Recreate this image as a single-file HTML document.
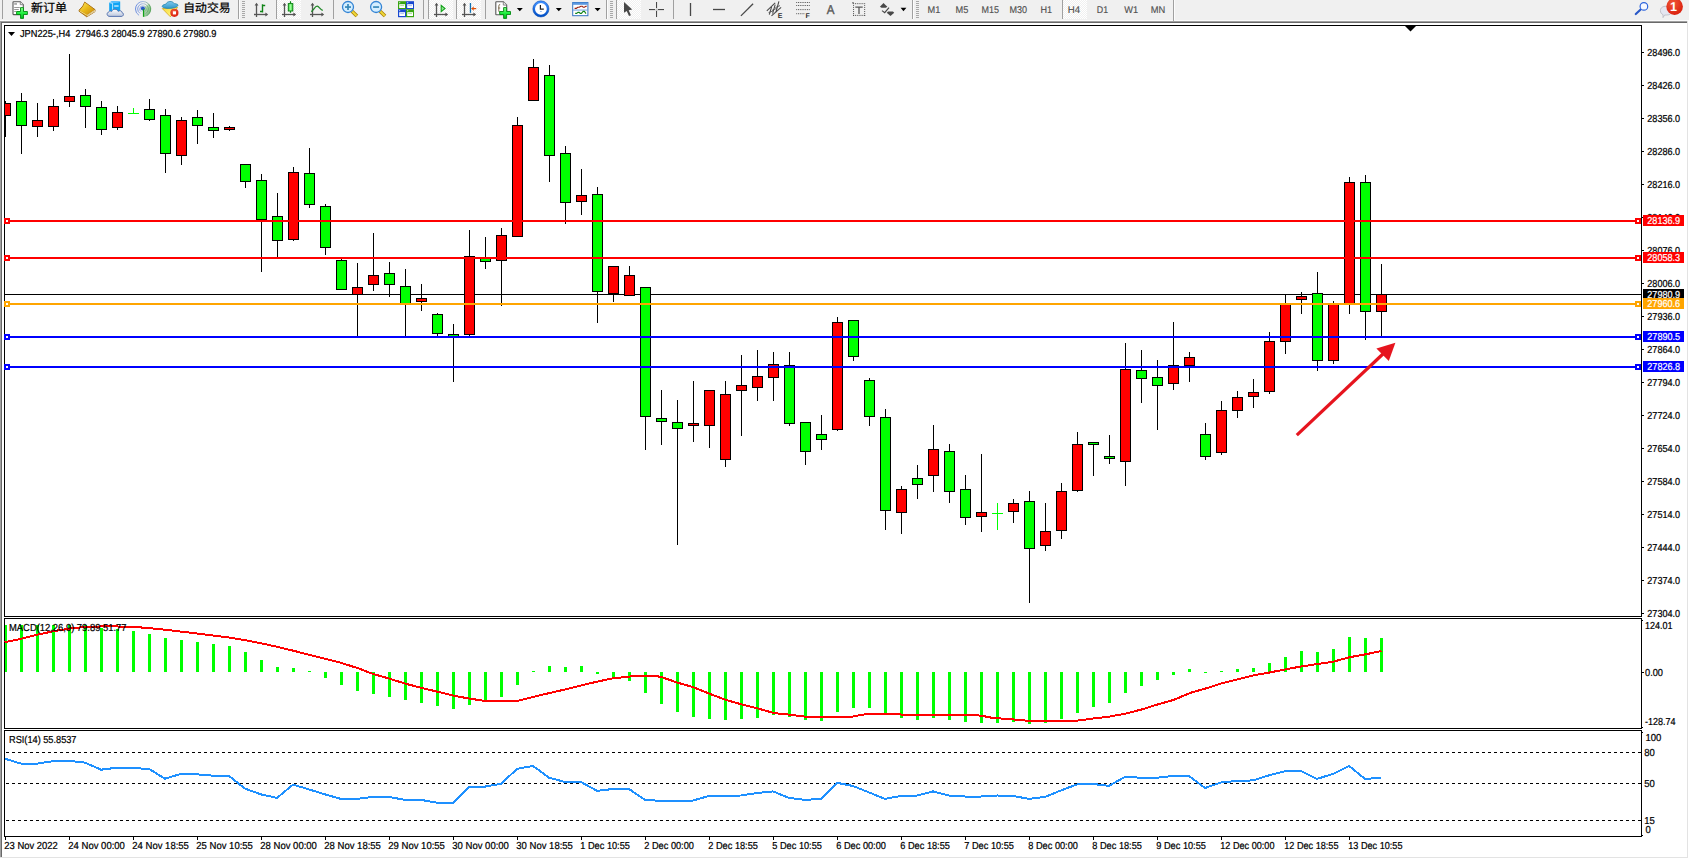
<!DOCTYPE html>
<html lang="zh"><head><meta charset="utf-8"><title>JPN225-,H4</title>
<style>
html,body{margin:0;padding:0;background:#fff;}
body{width:1689px;height:859px;overflow:hidden;position:relative;font-family:"Liberation Sans", "Noto Sans CJK SC", sans-serif;}
</style></head><body>
<svg id="chart" width="1689" height="859" viewBox="0 0 1689 859" style="position:absolute;left:0;top:0" font-family='"Liberation Sans", sans-serif' font-size="10.1" text-rendering="geometricPrecision">
<defs><clipPath id="cm"><rect x="5" y="26" width="1636" height="590"/></clipPath></defs>
<g id="toolbar">
<rect x="0" y="0" width="1689" height="21" fill="#f0f0f0"/>
<rect x="0" y="20" width="1689" height="1" fill="#fbfbfb" shape-rendering="crispEdges"/>
<defs>
<linearGradient id="gplus" x1="0" y1="0" x2="0" y2="1"><stop offset="0" stop-color="#8cff8c"/><stop offset="0.5" stop-color="#20f040"/><stop offset="1" stop-color="#00b818"/></linearGradient>
<linearGradient id="ggold" x1="0" y1="0" x2="1" y2="1"><stop offset="0" stop-color="#ffe860"/><stop offset="0.5" stop-color="#e8b818"/><stop offset="1" stop-color="#c88810"/></linearGradient>
<linearGradient id="gcloud" x1="0" y1="0" x2="0" y2="1"><stop offset="0" stop-color="#ffffff"/><stop offset="1" stop-color="#b8c4dc"/></linearGradient>
<linearGradient id="gblue" x1="0" y1="0" x2="0" y2="1"><stop offset="0" stop-color="#4090ff"/><stop offset="1" stop-color="#0050c8"/></linearGradient>
<linearGradient id="gcand" x1="0" y1="0" x2="1" y2="0"><stop offset="0" stop-color="#30d830"/><stop offset="0.5" stop-color="#a0ffa0"/><stop offset="1" stop-color="#30d830"/></linearGradient>
<radialGradient id="gred" cx="0.4" cy="0.3" r="0.8"><stop offset="0" stop-color="#f05838"/><stop offset="1" stop-color="#d81808"/></radialGradient>
<linearGradient id="ghat" x1="0" y1="0" x2="0" y2="1"><stop offset="0" stop-color="#80c8f0"/><stop offset="1" stop-color="#3098c8"/></linearGradient>
<linearGradient id="gface" x1="0" y1="0" x2="1" y2="1"><stop offset="0" stop-color="#f8d838"/><stop offset="1" stop-color="#ffff90"/></linearGradient>
<pattern id="chk" width="2" height="2" patternUnits="userSpaceOnUse"><rect width="2" height="2" fill="#f0f0f0"/><rect width="1" height="1" fill="#fff"/><rect x="1" y="1" width="1" height="1" fill="#fff"/></pattern>
</defs>
<rect x="2" y="0" width="1" height="19" fill="#a0a0a0" shape-rendering="crispEdges"/>
<path d="M13.5,1.7 h6.8 l3,3 v9.4 q0,.5 -.5,.5 h-9.3 q-.5,0 -.5,-.5 v-11.9 q0,-.5 .5,-.5 z" fill="#fff" stroke="#585858" stroke-width="1.1"/>
<path d="M20.3,1.7 v3 h3" fill="#e8e8e8" stroke="#707070" stroke-width="0.8"/>
<rect x="14.2" y="3.2" width="2.8" height="1.5" fill="#999"/><rect x="14.2" y="7" width="5.6" height="1" fill="#999"/><rect x="14.2" y="9" width="4.6" height="1" fill="#999"/><rect x="14.2" y="11" width="2" height="1" fill="#999"/>
<path d="M20.5,7.6 h3 v3.9 h3.9 v3 h-3.9 v3.9 h-3 v-3.9 h-3.9 v-3 h3.9 z" fill="url(#gplus)" stroke="#008a10" stroke-width="0.9" stroke-linejoin="round"/>
<text x="31" y="12.2" font-size="12" fill="#000" stroke="#000" stroke-width="0.25" font-family='"Liberation Sans","Noto Sans CJK SC",sans-serif'>新订单</text>
<path d="M84.7,2.1 L95,9.6 L95,11.6 L86.8,16.8 L79,11.2 L79.2,10 L82.9,6 Z" fill="#c89018" stroke="#a06810" stroke-width="0.9" stroke-linejoin="round"/>
<path d="M95,9.8 L87,15 L87,16.6 L95,11.5 Z" fill="#f4ecc8"/>
<path d="M94.8,10.6 L87.2,15.6" stroke="#b89850" stroke-width="0.5" fill="none"/>
<path d="M84.8,2.6 L94.2,9.5 L87,14.4 L79.8,10.2 L83.2,6.2 Z" fill="url(#ggold)"/>
<path d="M79.6,10.8 L86.9,15.2" stroke="#f8dc70" stroke-width="1" fill="none"/>
<path d="M109.2,2.4 L112,1.2 L120.2,1.6 L120.2,11 L109.2,11 Z" fill="#10a4f4"/>
<path d="M109.2,2.4 L112,1.2 L120.2,1.6 L118,2.8 L112.6,3.2 Z" fill="#58c0ff"/>
<path d="M109.4,2.6 L112.6,3.4 L112.6,11" fill="none" stroke="#e0f4ff" stroke-width="0.8"/>
<rect x="114.2" y="5.4" width="4.4" height="1.2" fill="#e8f6ff"/>
<path d="M110,16.4 C106.6,16.6 106.2,12.6 108.8,11.9 C109.6,10.8 111,10.9 111.6,11.6 C112.2,8.6 117.4,8.4 118.2,11.4 C119.8,10 122.2,11 122,12.6 C124.2,13.2 123.8,16.6 121,16.4 Z" fill="url(#gcloud)" stroke="#4868a8" stroke-width="0.9"/>
<defs><linearGradient id="gsig" x1="0" y1="0" x2="1" y2="0"><stop offset="0" stop-color="#3060d8"/><stop offset="0.55" stop-color="#88a8d8"/><stop offset="1" stop-color="#4a9850"/></linearGradient><linearGradient id="gsec" x1="0" y1="0" x2="1" y2="1"><stop offset="0" stop-color="#e8f4e0"/><stop offset="1" stop-color="#40a040"/></linearGradient></defs>
<path d="M143.2,9 L143.2,17 A8,8 0 0 0 148.8,3.4 Z" fill="url(#gsec)" opacity="0.85"/>
<circle cx="143" cy="9" r="7.5" fill="none" stroke="url(#gsig)" stroke-width="1" opacity="0.7" stroke-dasharray="39.8 7.5" stroke-dashoffset="-15.8"/>
<circle cx="143" cy="9" r="5.3" fill="none" stroke="url(#gsig)" stroke-width="1" opacity="0.6" stroke-dasharray="28.1 5.3" stroke-dashoffset="-11.1"/>
<circle cx="143" cy="9" r="3.2" fill="none" stroke="url(#gsig)" stroke-width="1" opacity="0.55" stroke-dasharray="17.0 3.2" stroke-dashoffset="-6.7"/>
<circle cx="142.9" cy="8.6" r="2" fill="#2858c8"/>
<rect x="142.9" y="9" width="1.3" height="7.8" fill="#10a018"/>
<path d="M162.3,8.6 L177.6,7.4 L170.4,16.8 Z" fill="url(#gface)" stroke="#d8a818" stroke-width="0.8" stroke-linejoin="round"/>
<path d="M162.2,6.4 C162.2,4.6 166,4.4 166.4,3.6 C167,1 173,0.8 173.6,3.2 C174.4,4 178,3.6 178,5.2 C177.6,7.4 172,8.4 169.4,8.4 C166.4,8.4 162.4,8 162.2,6.4 Z" fill="url(#ghat)" stroke="#2888b0" stroke-width="0.8"/>
<circle cx="174.4" cy="12.8" r="4.1" fill="url(#gred)"/>
<rect x="172.9" y="11.3" width="3.1" height="3.1" fill="#fff"/>
<text x="183.3" y="12.2" font-size="11.8" fill="#000" stroke="#000" stroke-width="0.25" font-family='"Liberation Sans","Noto Sans CJK SC",sans-serif'>自动交易</text>
<rect x="238" y="0" width="1" height="19" fill="#a0a0a0" shape-rendering="crispEdges"/>
<rect x="239" y="0" width="1" height="19" fill="#fcfcfc" shape-rendering="crispEdges"/>
<rect x="242" y="1" width="3" height="1" fill="#a8a8a8" shape-rendering="crispEdges"/>
<rect x="242" y="3" width="3" height="1" fill="#a8a8a8" shape-rendering="crispEdges"/>
<rect x="242" y="5" width="3" height="1" fill="#a8a8a8" shape-rendering="crispEdges"/>
<rect x="242" y="7" width="3" height="1" fill="#a8a8a8" shape-rendering="crispEdges"/>
<rect x="242" y="9" width="3" height="1" fill="#a8a8a8" shape-rendering="crispEdges"/>
<rect x="242" y="11" width="3" height="1" fill="#a8a8a8" shape-rendering="crispEdges"/>
<rect x="242" y="13" width="3" height="1" fill="#a8a8a8" shape-rendering="crispEdges"/>
<rect x="242" y="15" width="3" height="1" fill="#a8a8a8" shape-rendering="crispEdges"/>
<rect x="242" y="17" width="3" height="1" fill="#a8a8a8" shape-rendering="crispEdges"/>
<g stroke="#555" stroke-width="1.3" fill="none"><path d="M256.5,4 V17"/><path d="M254,14.5 H267"/></g>
<polygon points="256.5,2.8 254.6,5.6 258.4,5.6" fill="#555"/><polygon points="268.2,14.5 265.4,12.6 265.4,16.4" fill="#555"/>
<path d="M262.5,4.2 V12.6 M262.5,5.5 H265.2 M260,11.5 H262.5" stroke="#108418" stroke-width="1.4" fill="none"/>
<rect x="276" y="0" width="1" height="19" fill="#a0a0a0" shape-rendering="crispEdges"/>
<rect x="277" y="0" width="24" height="19" fill="url(#chk)" shape-rendering="crispEdges"/>
<g stroke="#555" stroke-width="1.3" fill="none"><path d="M284.5,4 V17"/><path d="M282,14.5 H295"/></g>
<polygon points="284.5,2.8 282.6,5.6 286.4,5.6" fill="#555"/><polygon points="296.2,14.5 293.4,12.6 293.4,16.4" fill="#555"/>
<path d="M290.5,1.2 V12.8" stroke="#108418" stroke-width="1.2"/><rect x="288.3" y="3.6" width="4.5" height="7.4" fill="url(#gcand)" stroke="#108418" stroke-width="1"/>
<g stroke="#555" stroke-width="1.3" fill="none"><path d="M312.5,4 V17"/><path d="M310,14.5 H323"/></g>
<polygon points="312.5,2.8 310.6,5.6 314.4,5.6" fill="#555"/><polygon points="324.2,14.5 321.4,12.6 321.4,16.4" fill="#555"/>
<path d="M311.2,11.6 C313.5,10.5 315,6 317.2,6.2 C319,6.4 320.5,9.8 322.8,10.4" stroke="#208828" stroke-width="1.3" fill="none"/>
<rect x="333" y="0" width="1" height="19" fill="#a0a0a0" shape-rendering="crispEdges"/>
<path d="M352,11.2 L356.9,16" stroke="#a88008" stroke-width="3.6" stroke-linecap="butt"/>
<path d="M352.2,11.4 L356.6,15.7" stroke="#f0d838" stroke-width="2"/>
<circle cx="348" cy="7" r="5.5" fill="#d4eeff" stroke="#3484d4" stroke-width="1.3"/>
<rect x="345" y="6.2" width="6" height="1.7" fill="#3888b8"/>
<rect x="347.15" y="4" width="1.7" height="6" fill="#3888b8"/>
<path d="M380.1,11.2 L385.0,16" stroke="#a88008" stroke-width="3.6" stroke-linecap="butt"/>
<path d="M380.3,11.4 L384.70000000000005,15.7" stroke="#f0d838" stroke-width="2"/>
<circle cx="376.1" cy="7" r="5.5" fill="#d4eeff" stroke="#3484d4" stroke-width="1.3"/>
<rect x="373.1" y="6.2" width="6" height="1.7" fill="#3888b8"/>
<rect x="398" y="1.2" width="8" height="8" fill="#38a410"/>
<rect x="399.2" y="4.2" width="5.8" height="3.8" fill="#fff"/>
<rect x="400.2" y="5.2" width="3.8" height="0.9" fill="#a0d890"/>
<rect x="399.2" y="2.2" width="1" height="1" fill="#e0f0ff"/>
<rect x="406" y="1.2" width="8" height="8" fill="#1848d0"/>
<rect x="407.2" y="4.2" width="5.8" height="3.8" fill="#fff"/>
<rect x="408.2" y="5.2" width="3.8" height="0.9" fill="#a0b8f0"/>
<rect x="407.2" y="2.2" width="1" height="1" fill="#e0f0ff"/>
<rect x="398" y="9.2" width="8" height="8" fill="#1848d0"/>
<rect x="399.2" y="12.2" width="5.8" height="3.8" fill="#fff"/>
<rect x="400.2" y="13.2" width="3.8" height="0.9" fill="#a0b8f0"/>
<rect x="399.2" y="10.2" width="1" height="1" fill="#e0f0ff"/>
<rect x="406" y="9.2" width="8" height="8" fill="#38a410"/>
<rect x="407.2" y="12.2" width="5.8" height="3.8" fill="#fff"/>
<rect x="408.2" y="13.2" width="3.8" height="0.9" fill="#a0d890"/>
<rect x="407.2" y="10.2" width="1" height="1" fill="#e0f0ff"/>
<rect x="423" y="0" width="1" height="19" fill="#a0a0a0" shape-rendering="crispEdges"/>
<rect x="428" y="0" width="1" height="19" fill="#a0a0a0" shape-rendering="crispEdges"/>
<rect x="429" y="0" width="24" height="19" fill="url(#chk)" shape-rendering="crispEdges"/>
<g stroke="#555" stroke-width="1.3" fill="none"><path d="M436.5,4 V17"/><path d="M434,14.5 H447"/></g>
<polygon points="436.5,2.8 434.6,5.6 438.4,5.6" fill="#555"/><polygon points="448.2,14.5 445.4,12.6 445.4,16.4" fill="#555"/>
<polygon points="441.2,5.4 441.2,11.6 445,8.6" fill="#90e890" stroke="#10a018" stroke-width="1.1"/>
<rect x="456" y="0" width="1" height="19" fill="#a0a0a0" shape-rendering="crispEdges"/>
<rect x="457" y="0" width="24" height="19" fill="url(#chk)" shape-rendering="crispEdges"/>
<g stroke="#555" stroke-width="1.3" fill="none"><path d="M464.5,4 V17"/><path d="M462,14.5 H475"/></g>
<polygon points="464.5,2.8 462.6,5.6 466.4,5.6" fill="#555"/><polygon points="476.2,14.5 473.4,12.6 473.4,16.4" fill="#555"/>
<rect x="469.8" y="3" width="1.3" height="9.8" fill="#1070b0"/>
<path d="M471.6,8.6 H476.2" stroke="#e05008" stroke-width="1.2"/><polygon points="471.3,8.6 474,6.2 473.4,8.6 474,11" fill="#e05008"/>
<rect x="485" y="0" width="1" height="19" fill="#a0a0a0" shape-rendering="crispEdges"/>
<path d="M496.3,1.7 h7 l3.4,3.4 v9.2 q0,.5 -.5,.5 h-9.9 q-.5,0 -.5,-.5 v-12.1 q0,-.5 .5,-.5 z" fill="#fff" stroke="#585858" stroke-width="1.1"/>
<path d="M503.3,1.7 v3.4 h3.4" fill="#e8e8e8" stroke="#707070" stroke-width="0.8"/>
<path d="M500.2,4.4 q-1.4,0 -1.4,1.6 v5 q0,1.2 1.2,1.2 M498,8 h2.2" stroke="#786848" stroke-width="0.9" fill="none"/>
<path d="M503.6,7.6 h3 v3.9 h3.9 v3 h-3.9 v3.9 h-3 v-3.9 h-3.9 v-3 h3.9 z" fill="url(#gplus)" stroke="#008a10" stroke-width="0.9" stroke-linejoin="round"/>
<polygon points="516.8,8 522.8,8 519.8,11.2" fill="#000"/>
<circle cx="540.9" cy="8.9" r="7" fill="#fff" stroke="url(#gblue)" stroke-width="2.2"/>
<circle cx="540.9" cy="8.9" r="8.1" fill="none" stroke="#0848a8" stroke-width="0.5"/>
<path d="M540.4,5 V9.2 H543.8" stroke="#202020" stroke-width="1.2" fill="none"/>
<rect x="540" y="11.2" width="1.8" height="0.8" fill="#80b0f0"/>
<polygon points="555.8,8 561.8,8 558.8,11.2" fill="#000"/>
<rect x="572.7" y="2.5" width="15.2" height="13.2" fill="#fff" stroke="#3474c4" stroke-width="1"/>
<rect x="573" y="2.6" width="14.6" height="2.2" fill="#5a98e0"/>
<rect x="573" y="9.6" width="14.6" height="0.9" fill="#5a98e0"/>
<path d="M574.6,8.4 h1.6 l1.6,-1.2 h1.4 l1.6,-1 h1.4 l1,1 h1.2 l1.4,-1 h1" stroke="#982010" stroke-width="1.1" fill="none"/>
<path d="M575.2,13.4 h1.4 l1.4,-1 h1.2 l1,1 h1.2 l1.8,-2 h1.2 l1.6,2.2" stroke="#108418" stroke-width="1.1" fill="none"/>
<polygon points="594.6,8 600.6,8 597.6,11.2" fill="#000"/>
<rect x="606" y="0" width="1" height="19" fill="#a0a0a0" shape-rendering="crispEdges"/>
<rect x="607" y="0" width="1" height="19" fill="#fcfcfc" shape-rendering="crispEdges"/>
<rect x="610" y="1" width="3" height="1" fill="#a8a8a8" shape-rendering="crispEdges"/>
<rect x="610" y="3" width="3" height="1" fill="#a8a8a8" shape-rendering="crispEdges"/>
<rect x="610" y="5" width="3" height="1" fill="#a8a8a8" shape-rendering="crispEdges"/>
<rect x="610" y="7" width="3" height="1" fill="#a8a8a8" shape-rendering="crispEdges"/>
<rect x="610" y="9" width="3" height="1" fill="#a8a8a8" shape-rendering="crispEdges"/>
<rect x="610" y="11" width="3" height="1" fill="#a8a8a8" shape-rendering="crispEdges"/>
<rect x="610" y="13" width="3" height="1" fill="#a8a8a8" shape-rendering="crispEdges"/>
<rect x="610" y="15" width="3" height="1" fill="#a8a8a8" shape-rendering="crispEdges"/>
<rect x="610" y="17" width="3" height="1" fill="#a8a8a8" shape-rendering="crispEdges"/>
<rect x="616" y="0" width="1" height="19" fill="#a0a0a0" shape-rendering="crispEdges"/>
<rect x="617" y="0" width="24" height="19" fill="url(#chk)" shape-rendering="crispEdges"/>
<polygon points="624,2.1 624,12.8 626.7,10.9 629,16 630.9,15.3 628.7,10.3 632.2,9.6" fill="#484848"/>
<g fill="#484848" shape-rendering="crispEdges"><rect x="649" y="9" width="6" height="1"/><rect x="658" y="9" width="6" height="1"/><rect x="656" y="2" width="1" height="6"/><rect x="656" y="11" width="1" height="6"/></g>
<g fill="#484848" opacity="0.35"><rect x="649" y="9.5" width="15" height="0.8"/><rect x="656.5" y="2" width="0.7" height="15"/></g>
<rect x="673" y="0" width="1" height="19" fill="#a0a0a0" shape-rendering="crispEdges"/>
<g stroke="#484848" stroke-width="1.3" fill="none">
<path d="M690.5,3 V16"/><path d="M713,9.5 H725"/><path d="M740.9,15.9 L753.1,3.8"/>
</g>
<g stroke="#484848" stroke-width="1.05" fill="none"><path d="M766.8,10.9 L775.2,2.9"/><path d="M771.5,15.9 L781.1,7.3"/><path d="M769.3,14.6 L771.6,6.8 M772.6,13.6 L775.2,4.6 M776,12 L778.9,1.3"/><path d="M768.6,12.6 L773,10.9 M772,10.4 L776.6,8.4 M775.4,7.6 L780,5.6" stroke-width="0.8"/></g>
<text x="777.7" y="17.8" font-size="7" font-weight="bold" fill="#303030">E</text>
<rect x="796.2" y="2.0" width="0.95" height="1" fill="#585858"/>
<rect x="798.0" y="2.0" width="0.95" height="1" fill="#585858"/>
<rect x="799.8" y="2.0" width="0.95" height="1" fill="#585858"/>
<rect x="801.6" y="2.0" width="0.95" height="1" fill="#585858"/>
<rect x="803.4" y="2.0" width="0.95" height="1" fill="#585858"/>
<rect x="805.2" y="2.0" width="0.95" height="1" fill="#585858"/>
<rect x="807.0" y="2.0" width="0.95" height="1" fill="#585858"/>
<rect x="808.8" y="2.0" width="0.95" height="1" fill="#585858"/>
<rect x="796.2" y="5.0" width="0.95" height="1" fill="#585858"/>
<rect x="798.0" y="5.0" width="0.95" height="1" fill="#585858"/>
<rect x="799.8" y="5.0" width="0.95" height="1" fill="#585858"/>
<rect x="801.6" y="5.0" width="0.95" height="1" fill="#585858"/>
<rect x="803.4" y="5.0" width="0.95" height="1" fill="#585858"/>
<rect x="805.2" y="5.0" width="0.95" height="1" fill="#585858"/>
<rect x="807.0" y="5.0" width="0.95" height="1" fill="#585858"/>
<rect x="808.8" y="5.0" width="0.95" height="1" fill="#585858"/>
<rect x="796.2" y="9.1" width="0.95" height="1" fill="#585858"/>
<rect x="798.0" y="9.1" width="0.95" height="1" fill="#585858"/>
<rect x="799.8" y="9.1" width="0.95" height="1" fill="#585858"/>
<rect x="801.6" y="9.1" width="0.95" height="1" fill="#585858"/>
<rect x="803.4" y="9.1" width="0.95" height="1" fill="#585858"/>
<rect x="805.2" y="9.1" width="0.95" height="1" fill="#585858"/>
<rect x="807.0" y="9.1" width="0.95" height="1" fill="#585858"/>
<rect x="808.8" y="9.1" width="0.95" height="1" fill="#585858"/>
<rect x="796.2" y="13.2" width="0.95" height="1" fill="#585858"/>
<rect x="798.0" y="13.2" width="0.95" height="1" fill="#585858"/>
<rect x="799.8" y="13.2" width="0.95" height="1" fill="#585858"/>
<rect x="801.6" y="13.2" width="0.95" height="1" fill="#585858"/>
<rect x="803.4" y="13.2" width="0.95" height="1" fill="#585858"/>
<text x="805.6" y="17.9" font-size="7" font-weight="bold" fill="#303030">F</text>
<text x="826.8" y="14.2" font-size="12.8" fill="#585858" stroke="#585858" stroke-width="0.4" textLength="7.7" lengthAdjust="spacingAndGlyphs">A</text>
<rect x="853.10" y="3.2" width="0.95" height="0.95" fill="#484848"/><rect x="853.10" y="14.9" width="0.95" height="0.95" fill="#484848"/>
<rect x="854.95" y="3.2" width="0.95" height="0.95" fill="#484848"/><rect x="854.95" y="14.9" width="0.95" height="0.95" fill="#484848"/>
<rect x="856.80" y="3.2" width="0.95" height="0.95" fill="#484848"/><rect x="856.80" y="14.9" width="0.95" height="0.95" fill="#484848"/>
<rect x="858.65" y="3.2" width="0.95" height="0.95" fill="#484848"/><rect x="858.65" y="14.9" width="0.95" height="0.95" fill="#484848"/>
<rect x="860.50" y="3.2" width="0.95" height="0.95" fill="#484848"/><rect x="860.50" y="14.9" width="0.95" height="0.95" fill="#484848"/>
<rect x="862.35" y="3.2" width="0.95" height="0.95" fill="#484848"/><rect x="862.35" y="14.9" width="0.95" height="0.95" fill="#484848"/>
<rect x="864.20" y="3.2" width="0.95" height="0.95" fill="#484848"/><rect x="864.20" y="14.9" width="0.95" height="0.95" fill="#484848"/>
<rect x="853.1" y="5.15" width="0.95" height="0.95" fill="#484848"/><rect x="864.2" y="5.15" width="0.95" height="0.95" fill="#484848"/>
<rect x="853.1" y="7.10" width="0.95" height="0.95" fill="#484848"/><rect x="864.2" y="7.10" width="0.95" height="0.95" fill="#484848"/>
<rect x="853.1" y="9.05" width="0.95" height="0.95" fill="#484848"/><rect x="864.2" y="9.05" width="0.95" height="0.95" fill="#484848"/>
<rect x="853.1" y="11.00" width="0.95" height="0.95" fill="#484848"/><rect x="864.2" y="11.00" width="0.95" height="0.95" fill="#484848"/>
<rect x="853.1" y="12.95" width="0.95" height="0.95" fill="#484848"/><rect x="864.2" y="12.95" width="0.95" height="0.95" fill="#484848"/>
<rect x="853.1" y="14.90" width="0.95" height="0.95" fill="#484848"/><rect x="864.2" y="14.90" width="0.95" height="0.95" fill="#484848"/>
<rect x="852" y="2.4" width="2" height="1" fill="#585858"/>
<path d="M855.3,7.1 H862.7 M859,7.1 V14" stroke="#585858" stroke-width="1.3" fill="none"/>
<polygon points="883.5,2.9 887.3,6.7 885.9,7.8 881.5,7.8 879.9,6.7" fill="#484848"/>
<polygon points="888.1,11.6 892.9,11.6 894.2,12.7 890.5,16.1 886.7,12.7" fill="#484848"/>
<path d="M882,10.6 L884.7,12.7 L889,7.7" stroke="#484848" stroke-width="1.2" fill="none"/>
<polygon points="900.6,7.8 906.4,7.8 903.5,11.2" fill="#000"/>
<rect x="912" y="0" width="1" height="19" fill="#a0a0a0" shape-rendering="crispEdges"/>
<rect x="913" y="0" width="1" height="19" fill="#fcfcfc" shape-rendering="crispEdges"/>
<rect x="916" y="1" width="3" height="1" fill="#a8a8a8" shape-rendering="crispEdges"/>
<rect x="916" y="3" width="3" height="1" fill="#a8a8a8" shape-rendering="crispEdges"/>
<rect x="916" y="5" width="3" height="1" fill="#a8a8a8" shape-rendering="crispEdges"/>
<rect x="916" y="7" width="3" height="1" fill="#a8a8a8" shape-rendering="crispEdges"/>
<rect x="916" y="9" width="3" height="1" fill="#a8a8a8" shape-rendering="crispEdges"/>
<rect x="916" y="11" width="3" height="1" fill="#a8a8a8" shape-rendering="crispEdges"/>
<rect x="916" y="13" width="3" height="1" fill="#a8a8a8" shape-rendering="crispEdges"/>
<rect x="916" y="15" width="3" height="1" fill="#a8a8a8" shape-rendering="crispEdges"/>
<rect x="916" y="17" width="3" height="1" fill="#a8a8a8" shape-rendering="crispEdges"/>
<text x="927.5" y="13" font-size="9.9" fill="#505050" stroke="#505050" stroke-width="0.15" textLength="12.8" lengthAdjust="spacingAndGlyphs">M1</text>
<text x="955.5" y="13" font-size="9.9" fill="#505050" stroke="#505050" stroke-width="0.15" textLength="12.8" lengthAdjust="spacingAndGlyphs">M5</text>
<text x="981.5" y="13" font-size="9.9" fill="#505050" stroke="#505050" stroke-width="0.15" textLength="17.5" lengthAdjust="spacingAndGlyphs">M15</text>
<text x="1009.4" y="13" font-size="9.9" fill="#505050" stroke="#505050" stroke-width="0.15" textLength="17.6" lengthAdjust="spacingAndGlyphs">M30</text>
<text x="1040.4" y="13" font-size="9.9" fill="#505050" stroke="#505050" stroke-width="0.15" textLength="11.6" lengthAdjust="spacingAndGlyphs">H1</text>
<rect x="1062" y="0" width="1" height="19" fill="#a0a0a0" shape-rendering="crispEdges"/>
<rect x="1063" y="0" width="24" height="19" fill="url(#chk)" shape-rendering="crispEdges"/>
<text x="1067.7" y="13" font-size="9.9" fill="#505050" stroke="#505050" stroke-width="0.15" textLength="12.3" lengthAdjust="spacingAndGlyphs">H4</text>
<text x="1096.8" y="13" font-size="9.9" fill="#505050" stroke="#505050" stroke-width="0.15" textLength="11.3" lengthAdjust="spacingAndGlyphs">D1</text>
<text x="1124.3" y="13" font-size="9.9" fill="#505050" stroke="#505050" stroke-width="0.15" textLength="13.9" lengthAdjust="spacingAndGlyphs">W1</text>
<text x="1150.7" y="13" font-size="9.9" fill="#505050" stroke="#505050" stroke-width="0.15" textLength="14.5" lengthAdjust="spacingAndGlyphs">MN</text>
<rect x="1173" y="0" width="1" height="21" fill="#a0a0a0" shape-rendering="crispEdges"/>
<rect x="1174" y="0" width="1" height="21" fill="#fcfcfc" shape-rendering="crispEdges"/>
<path d="M1640.4,9.8 L1635.8,14" stroke="#2858c8" stroke-width="2.2" stroke-linecap="round"/>
<circle cx="1643.9" cy="6.4" r="3.8" fill="#f6f8ff" stroke="#2c64dc" stroke-width="1.2"/>
<path d="M1660.4,10.6 C1660.4,7.6 1663,6.2 1666.4,6.2 C1670,6.2 1672,8 1672,10.8 C1672,13.8 1669.6,15 1666.6,15 L1664.6,15 L1663,17.6 L1663,14.6 C1661.4,14 1660.4,12.6 1660.4,10.6 Z" fill="#e4e6f0" stroke="#b8b8c0" stroke-width="0.8"/>
<circle cx="1674.6" cy="6.6" r="8.3" fill="url(#gred)"/>
<text x="1670.1" y="11.1" font-size="12.6" font-weight="bold" fill="#fff">1</text>
</g>
<g shape-rendering="crispEdges">
<rect x="0" y="21" width="1687" height="1" fill="#a0a0a0"/>
<rect x="0" y="22" width="1" height="835" fill="#a0a0a0"/>
<rect x="1" y="22" width="1686" height="1" fill="#696969"/>
<rect x="1" y="22" width="1" height="835" fill="#696969"/>
<rect x="1687" y="21" width="1" height="837" fill="#e3e3e3"/>
<rect x="0" y="857" width="1688" height="1" fill="#e3e3e3"/>
<rect x="4" y="25" width="1638" height="1" fill="#000"/>
<rect x="4" y="25" width="1" height="592" fill="#000"/>
<rect x="4" y="616" width="1638" height="1" fill="#000"/>
<rect x="4" y="618" width="1638" height="1" fill="#000"/>
<rect x="4" y="618" width="1" height="111" fill="#000"/>
<rect x="4" y="728" width="1638" height="1" fill="#000"/>
<rect x="4" y="730" width="1638" height="1" fill="#000"/>
<rect x="4" y="730" width="1" height="107" fill="#000"/>
<rect x="4" y="836" width="1638" height="1" fill="#000"/>
<rect x="1641" y="25" width="1" height="592" fill="#000"/>
<rect x="1641" y="618" width="1" height="111" fill="#000"/>
<rect x="1641" y="730" width="1" height="107" fill="#000"/>
<rect x="1642" y="52" width="2" height="1" fill="#000"/>
<rect x="1642" y="85" width="2" height="1" fill="#000"/>
<rect x="1642" y="118" width="2" height="1" fill="#000"/>
<rect x="1642" y="151" width="2" height="1" fill="#000"/>
<rect x="1642" y="184" width="2" height="1" fill="#000"/>
<rect x="1642" y="217" width="2" height="1" fill="#000"/>
<rect x="1642" y="250" width="2" height="1" fill="#000"/>
<rect x="1642" y="283" width="2" height="1" fill="#000"/>
<rect x="1642" y="316" width="2" height="1" fill="#000"/>
<rect x="1642" y="349" width="2" height="1" fill="#000"/>
<rect x="1642" y="382" width="2" height="1" fill="#000"/>
<rect x="1642" y="415" width="2" height="1" fill="#000"/>
<rect x="1642" y="448" width="2" height="1" fill="#000"/>
<rect x="1642" y="481" width="2" height="1" fill="#000"/>
<rect x="1642" y="514" width="2" height="1" fill="#000"/>
<rect x="1642" y="547" width="2" height="1" fill="#000"/>
<rect x="1642" y="580" width="2" height="1" fill="#000"/>
<rect x="1642" y="613" width="2" height="1" fill="#000"/>
<rect x="1642" y="672" width="2" height="1" fill="#000"/>
<rect x="1642" y="620" width="1" height="1" fill="#000"/>
<rect x="1642" y="727" width="1" height="1" fill="#000"/>
<rect x="1642" y="732" width="1" height="1" fill="#000"/>
<rect x="1642" y="835" width="1" height="1" fill="#000"/>
<rect x="5" y="837" width="1" height="3" fill="#000"/>
<rect x="69" y="837" width="1" height="3" fill="#000"/>
<rect x="133" y="837" width="1" height="3" fill="#000"/>
<rect x="197" y="837" width="1" height="3" fill="#000"/>
<rect x="261" y="837" width="1" height="3" fill="#000"/>
<rect x="325" y="837" width="1" height="3" fill="#000"/>
<rect x="389" y="837" width="1" height="3" fill="#000"/>
<rect x="453" y="837" width="1" height="3" fill="#000"/>
<rect x="517" y="837" width="1" height="3" fill="#000"/>
<rect x="581" y="837" width="1" height="3" fill="#000"/>
<rect x="645" y="837" width="1" height="3" fill="#000"/>
<rect x="709" y="837" width="1" height="3" fill="#000"/>
<rect x="773" y="837" width="1" height="3" fill="#000"/>
<rect x="837" y="837" width="1" height="3" fill="#000"/>
<rect x="901" y="837" width="1" height="3" fill="#000"/>
<rect x="965" y="837" width="1" height="3" fill="#000"/>
<rect x="1029" y="837" width="1" height="3" fill="#000"/>
<rect x="1093" y="837" width="1" height="3" fill="#000"/>
<rect x="1157" y="837" width="1" height="3" fill="#000"/>
<rect x="1221" y="837" width="1" height="3" fill="#000"/>
<rect x="1285" y="837" width="1" height="3" fill="#000"/>
<rect x="1349" y="837" width="1" height="3" fill="#000"/>
</g>
<text x="1647.3" y="56" fill="#000" stroke="#000" stroke-width="0.22" textLength="32.8" lengthAdjust="spacingAndGlyphs">28496.0</text>
<text x="1647.3" y="89" fill="#000" stroke="#000" stroke-width="0.22" textLength="32.8" lengthAdjust="spacingAndGlyphs">28426.0</text>
<text x="1647.3" y="122" fill="#000" stroke="#000" stroke-width="0.22" textLength="32.8" lengthAdjust="spacingAndGlyphs">28356.0</text>
<text x="1647.3" y="155" fill="#000" stroke="#000" stroke-width="0.22" textLength="32.8" lengthAdjust="spacingAndGlyphs">28286.0</text>
<text x="1647.3" y="188" fill="#000" stroke="#000" stroke-width="0.22" textLength="32.8" lengthAdjust="spacingAndGlyphs">28216.0</text>
<text x="1647.3" y="221" fill="#000" stroke="#000" stroke-width="0.22" textLength="32.8" lengthAdjust="spacingAndGlyphs">28146.0</text>
<text x="1647.3" y="254" fill="#000" stroke="#000" stroke-width="0.22" textLength="32.8" lengthAdjust="spacingAndGlyphs">28076.0</text>
<text x="1647.3" y="287" fill="#000" stroke="#000" stroke-width="0.22" textLength="32.8" lengthAdjust="spacingAndGlyphs">28006.0</text>
<text x="1647.3" y="320" fill="#000" stroke="#000" stroke-width="0.22" textLength="32.8" lengthAdjust="spacingAndGlyphs">27936.0</text>
<text x="1647.3" y="353" fill="#000" stroke="#000" stroke-width="0.22" textLength="32.8" lengthAdjust="spacingAndGlyphs">27864.0</text>
<text x="1647.3" y="386" fill="#000" stroke="#000" stroke-width="0.22" textLength="32.8" lengthAdjust="spacingAndGlyphs">27794.0</text>
<text x="1647.3" y="419" fill="#000" stroke="#000" stroke-width="0.22" textLength="32.8" lengthAdjust="spacingAndGlyphs">27724.0</text>
<text x="1647.3" y="452" fill="#000" stroke="#000" stroke-width="0.22" textLength="32.8" lengthAdjust="spacingAndGlyphs">27654.0</text>
<text x="1647.3" y="485" fill="#000" stroke="#000" stroke-width="0.22" textLength="32.8" lengthAdjust="spacingAndGlyphs">27584.0</text>
<text x="1647.3" y="518" fill="#000" stroke="#000" stroke-width="0.22" textLength="32.8" lengthAdjust="spacingAndGlyphs">27514.0</text>
<text x="1647.3" y="551" fill="#000" stroke="#000" stroke-width="0.22" textLength="32.8" lengthAdjust="spacingAndGlyphs">27444.0</text>
<text x="1647.3" y="584" fill="#000" stroke="#000" stroke-width="0.22" textLength="32.8" lengthAdjust="spacingAndGlyphs">27374.0</text>
<text x="1647.3" y="617" fill="#000" stroke="#000" stroke-width="0.22" textLength="32.8" lengthAdjust="spacingAndGlyphs">27304.0</text>
<text x="1645" y="628.9" fill="#000" stroke="#000" stroke-width="0.22" textLength="27.5" lengthAdjust="spacingAndGlyphs">124.01</text>
<text x="1645" y="675.9" fill="#000" stroke="#000" stroke-width="0.22" textLength="18" lengthAdjust="spacingAndGlyphs">0.00</text>
<text x="1645" y="724.7" fill="#000" stroke="#000" stroke-width="0.22" textLength="30.5" lengthAdjust="spacingAndGlyphs">-128.74</text>
<text x="1645.5" y="741" fill="#000" stroke="#000" stroke-width="0.22" textLength="15.9" lengthAdjust="spacingAndGlyphs">100</text>
<text x="1644.3" y="756.2" fill="#000" stroke="#000" stroke-width="0.22" textLength="10.6" lengthAdjust="spacingAndGlyphs">80</text>
<text x="1644.3" y="787.2" fill="#000" stroke="#000" stroke-width="0.22" textLength="10.6" lengthAdjust="spacingAndGlyphs">50</text>
<text x="1644.3" y="824" fill="#000" stroke="#000" stroke-width="0.22" textLength="10.6" lengthAdjust="spacingAndGlyphs">15</text>
<text x="1645.5" y="833" fill="#000" stroke="#000" stroke-width="0.22" textLength="5.3" lengthAdjust="spacingAndGlyphs">0</text>
<text x="4.3" y="848.8" fill="#000" stroke="#000" stroke-width="0.22" textLength="53.5" lengthAdjust="spacingAndGlyphs">23 Nov 2022</text>
<text x="68.3" y="848.8" fill="#000" stroke="#000" stroke-width="0.22" textLength="56.6" lengthAdjust="spacingAndGlyphs">24 Nov 00:00</text>
<text x="132.3" y="848.8" fill="#000" stroke="#000" stroke-width="0.22" textLength="56.6" lengthAdjust="spacingAndGlyphs">24 Nov 18:55</text>
<text x="196.3" y="848.8" fill="#000" stroke="#000" stroke-width="0.22" textLength="56.6" lengthAdjust="spacingAndGlyphs">25 Nov 10:55</text>
<text x="260.3" y="848.8" fill="#000" stroke="#000" stroke-width="0.22" textLength="56.6" lengthAdjust="spacingAndGlyphs">28 Nov 00:00</text>
<text x="324.3" y="848.8" fill="#000" stroke="#000" stroke-width="0.22" textLength="56.6" lengthAdjust="spacingAndGlyphs">28 Nov 18:55</text>
<text x="388.3" y="848.8" fill="#000" stroke="#000" stroke-width="0.22" textLength="56.6" lengthAdjust="spacingAndGlyphs">29 Nov 10:55</text>
<text x="452.3" y="848.8" fill="#000" stroke="#000" stroke-width="0.22" textLength="56.6" lengthAdjust="spacingAndGlyphs">30 Nov 00:00</text>
<text x="516.3" y="848.8" fill="#000" stroke="#000" stroke-width="0.22" textLength="56.6" lengthAdjust="spacingAndGlyphs">30 Nov 18:55</text>
<text x="580.3" y="848.8" fill="#000" stroke="#000" stroke-width="0.22" textLength="49.6" lengthAdjust="spacingAndGlyphs">1 Dec 10:55</text>
<text x="644.3" y="848.8" fill="#000" stroke="#000" stroke-width="0.22" textLength="49.6" lengthAdjust="spacingAndGlyphs">2 Dec 00:00</text>
<text x="708.3" y="848.8" fill="#000" stroke="#000" stroke-width="0.22" textLength="49.6" lengthAdjust="spacingAndGlyphs">2 Dec 18:55</text>
<text x="772.3" y="848.8" fill="#000" stroke="#000" stroke-width="0.22" textLength="49.6" lengthAdjust="spacingAndGlyphs">5 Dec 10:55</text>
<text x="836.3" y="848.8" fill="#000" stroke="#000" stroke-width="0.22" textLength="49.6" lengthAdjust="spacingAndGlyphs">6 Dec 00:00</text>
<text x="900.3" y="848.8" fill="#000" stroke="#000" stroke-width="0.22" textLength="49.6" lengthAdjust="spacingAndGlyphs">6 Dec 18:55</text>
<text x="964.3" y="848.8" fill="#000" stroke="#000" stroke-width="0.22" textLength="49.6" lengthAdjust="spacingAndGlyphs">7 Dec 10:55</text>
<text x="1028.3" y="848.8" fill="#000" stroke="#000" stroke-width="0.22" textLength="49.6" lengthAdjust="spacingAndGlyphs">8 Dec 00:00</text>
<text x="1092.3" y="848.8" fill="#000" stroke="#000" stroke-width="0.22" textLength="49.6" lengthAdjust="spacingAndGlyphs">8 Dec 18:55</text>
<text x="1156.3" y="848.8" fill="#000" stroke="#000" stroke-width="0.22" textLength="49.6" lengthAdjust="spacingAndGlyphs">9 Dec 10:55</text>
<text x="1220.3" y="848.8" fill="#000" stroke="#000" stroke-width="0.22" textLength="54.2" lengthAdjust="spacingAndGlyphs">12 Dec 00:00</text>
<text x="1284.3" y="848.8" fill="#000" stroke="#000" stroke-width="0.22" textLength="54.2" lengthAdjust="spacingAndGlyphs">12 Dec 18:55</text>
<text x="1348.3" y="848.8" fill="#000" stroke="#000" stroke-width="0.22" textLength="54.2" lengthAdjust="spacingAndGlyphs">13 Dec 10:55</text>
<g clip-path="url(#cm)" shape-rendering="crispEdges">
<rect x="5" y="294" width="1636" height="1" fill="#000"/>
<rect x="5" y="101" width="1" height="36" fill="#000"/>
<rect x="0" y="103" width="11" height="13" fill="#000"/>
<rect x="1" y="104" width="9" height="11" fill="#ff0000"/>
<rect x="21" y="93" width="1" height="61" fill="#000"/>
<rect x="16" y="101" width="11" height="25" fill="#000"/>
<rect x="17" y="102" width="9" height="23" fill="#00ff00"/>
<rect x="37" y="103" width="1" height="34" fill="#000"/>
<rect x="32" y="120" width="11" height="7" fill="#000"/>
<rect x="33" y="121" width="9" height="5" fill="#ff0000"/>
<rect x="53" y="99" width="1" height="32" fill="#000"/>
<rect x="48" y="106" width="11" height="21" fill="#000"/>
<rect x="49" y="107" width="9" height="19" fill="#ff0000"/>
<rect x="69" y="54" width="1" height="53" fill="#000"/>
<rect x="64" y="96" width="11" height="6" fill="#000"/>
<rect x="65" y="97" width="9" height="4" fill="#ff0000"/>
<rect x="85" y="89" width="1" height="39" fill="#000"/>
<rect x="80" y="95" width="11" height="12" fill="#000"/>
<rect x="81" y="96" width="9" height="10" fill="#00ff00"/>
<rect x="101" y="101" width="1" height="34" fill="#000"/>
<rect x="96" y="107" width="11" height="23" fill="#000"/>
<rect x="97" y="108" width="9" height="21" fill="#00ff00"/>
<rect x="117" y="106" width="1" height="24" fill="#000"/>
<rect x="112" y="112" width="11" height="16" fill="#000"/>
<rect x="113" y="113" width="9" height="14" fill="#ff0000"/>
<rect x="149" y="99" width="1" height="22" fill="#000"/>
<rect x="144" y="109" width="11" height="11" fill="#000"/>
<rect x="145" y="110" width="9" height="9" fill="#00ff00"/>
<rect x="165" y="109" width="1" height="64" fill="#000"/>
<rect x="160" y="115" width="11" height="39" fill="#000"/>
<rect x="161" y="116" width="9" height="37" fill="#00ff00"/>
<rect x="181" y="117" width="1" height="48" fill="#000"/>
<rect x="176" y="120" width="11" height="36" fill="#000"/>
<rect x="177" y="121" width="9" height="34" fill="#ff0000"/>
<rect x="197" y="110" width="1" height="34" fill="#000"/>
<rect x="192" y="117" width="11" height="9" fill="#000"/>
<rect x="193" y="118" width="9" height="7" fill="#00ff00"/>
<rect x="213" y="113" width="1" height="25" fill="#000"/>
<rect x="208" y="127" width="11" height="4" fill="#000"/>
<rect x="209" y="128" width="9" height="2" fill="#00ff00"/>
<rect x="229" y="126" width="1" height="5" fill="#000"/>
<rect x="224" y="127" width="11" height="3" fill="#000"/>
<rect x="225" y="128" width="9" height="1" fill="#ff0000"/>
<rect x="245" y="164" width="1" height="24" fill="#000"/>
<rect x="240" y="164" width="11" height="18" fill="#000"/>
<rect x="241" y="165" width="9" height="16" fill="#00ff00"/>
<rect x="261" y="174" width="1" height="98" fill="#000"/>
<rect x="256" y="180" width="11" height="40" fill="#000"/>
<rect x="257" y="181" width="9" height="38" fill="#00ff00"/>
<rect x="277" y="193" width="1" height="64" fill="#000"/>
<rect x="272" y="216" width="11" height="25" fill="#000"/>
<rect x="273" y="217" width="9" height="23" fill="#00ff00"/>
<rect x="293" y="167" width="1" height="74" fill="#000"/>
<rect x="288" y="172" width="11" height="68" fill="#000"/>
<rect x="289" y="173" width="9" height="66" fill="#ff0000"/>
<rect x="309" y="148" width="1" height="60" fill="#000"/>
<rect x="304" y="173" width="11" height="32" fill="#000"/>
<rect x="305" y="174" width="9" height="30" fill="#00ff00"/>
<rect x="325" y="204" width="1" height="51" fill="#000"/>
<rect x="320" y="206" width="11" height="42" fill="#000"/>
<rect x="321" y="207" width="9" height="40" fill="#00ff00"/>
<rect x="341" y="259" width="1" height="31" fill="#000"/>
<rect x="336" y="260" width="11" height="30" fill="#000"/>
<rect x="337" y="261" width="9" height="28" fill="#00ff00"/>
<rect x="357" y="263" width="1" height="74" fill="#000"/>
<rect x="352" y="287" width="11" height="8" fill="#000"/>
<rect x="353" y="288" width="9" height="6" fill="#ff0000"/>
<rect x="373" y="233" width="1" height="58" fill="#000"/>
<rect x="368" y="275" width="11" height="10" fill="#000"/>
<rect x="369" y="276" width="9" height="8" fill="#ff0000"/>
<rect x="389" y="262" width="1" height="35" fill="#000"/>
<rect x="384" y="273" width="11" height="12" fill="#000"/>
<rect x="385" y="274" width="9" height="10" fill="#00ff00"/>
<rect x="405" y="269" width="1" height="68" fill="#000"/>
<rect x="400" y="286" width="11" height="18" fill="#000"/>
<rect x="401" y="287" width="9" height="16" fill="#00ff00"/>
<rect x="421" y="284" width="1" height="27" fill="#000"/>
<rect x="416" y="298" width="11" height="4" fill="#000"/>
<rect x="417" y="299" width="9" height="2" fill="#ff0000"/>
<rect x="437" y="313" width="1" height="23" fill="#000"/>
<rect x="432" y="314" width="11" height="20" fill="#000"/>
<rect x="433" y="315" width="9" height="18" fill="#00ff00"/>
<rect x="453" y="324" width="1" height="58" fill="#000"/>
<rect x="448" y="334" width="11" height="3" fill="#000"/>
<rect x="449" y="335" width="9" height="1" fill="#00ff00"/>
<rect x="469" y="230" width="1" height="106" fill="#000"/>
<rect x="464" y="256" width="11" height="79" fill="#000"/>
<rect x="465" y="257" width="9" height="77" fill="#ff0000"/>
<rect x="485" y="237" width="1" height="32" fill="#000"/>
<rect x="480" y="258" width="11" height="4" fill="#000"/>
<rect x="481" y="259" width="9" height="2" fill="#00ff00"/>
<rect x="501" y="228" width="1" height="78" fill="#000"/>
<rect x="496" y="235" width="11" height="26" fill="#000"/>
<rect x="497" y="236" width="9" height="24" fill="#ff0000"/>
<rect x="517" y="117" width="1" height="120" fill="#000"/>
<rect x="512" y="125" width="11" height="112" fill="#000"/>
<rect x="513" y="126" width="9" height="110" fill="#ff0000"/>
<rect x="533" y="59" width="1" height="42" fill="#000"/>
<rect x="528" y="67" width="11" height="34" fill="#000"/>
<rect x="529" y="68" width="9" height="32" fill="#ff0000"/>
<rect x="549" y="65" width="1" height="117" fill="#000"/>
<rect x="544" y="75" width="11" height="81" fill="#000"/>
<rect x="545" y="76" width="9" height="79" fill="#00ff00"/>
<rect x="565" y="146" width="1" height="78" fill="#000"/>
<rect x="560" y="153" width="11" height="50" fill="#000"/>
<rect x="561" y="154" width="9" height="48" fill="#00ff00"/>
<rect x="581" y="169" width="1" height="46" fill="#000"/>
<rect x="576" y="195" width="11" height="7" fill="#000"/>
<rect x="577" y="196" width="9" height="5" fill="#ff0000"/>
<rect x="597" y="187" width="1" height="136" fill="#000"/>
<rect x="592" y="194" width="11" height="98" fill="#000"/>
<rect x="593" y="195" width="9" height="96" fill="#00ff00"/>
<rect x="613" y="266" width="1" height="36" fill="#000"/>
<rect x="608" y="266" width="11" height="28" fill="#000"/>
<rect x="609" y="267" width="9" height="26" fill="#ff0000"/>
<rect x="629" y="266" width="1" height="30" fill="#000"/>
<rect x="624" y="275" width="11" height="21" fill="#000"/>
<rect x="625" y="276" width="9" height="19" fill="#ff0000"/>
<rect x="645" y="287" width="1" height="163" fill="#000"/>
<rect x="640" y="287" width="11" height="130" fill="#000"/>
<rect x="641" y="288" width="9" height="128" fill="#00ff00"/>
<rect x="661" y="390" width="1" height="55" fill="#000"/>
<rect x="656" y="418" width="11" height="4" fill="#000"/>
<rect x="657" y="419" width="9" height="2" fill="#00ff00"/>
<rect x="677" y="400" width="1" height="145" fill="#000"/>
<rect x="672" y="422" width="11" height="7" fill="#000"/>
<rect x="673" y="423" width="9" height="5" fill="#00ff00"/>
<rect x="693" y="381" width="1" height="61" fill="#000"/>
<rect x="688" y="423" width="11" height="3" fill="#000"/>
<rect x="689" y="424" width="9" height="1" fill="#ff0000"/>
<rect x="709" y="390" width="1" height="58" fill="#000"/>
<rect x="704" y="390" width="11" height="36" fill="#000"/>
<rect x="705" y="391" width="9" height="34" fill="#ff0000"/>
<rect x="725" y="381" width="1" height="86" fill="#000"/>
<rect x="720" y="394" width="11" height="66" fill="#000"/>
<rect x="721" y="395" width="9" height="64" fill="#ff0000"/>
<rect x="741" y="355" width="1" height="81" fill="#000"/>
<rect x="736" y="385" width="11" height="6" fill="#000"/>
<rect x="737" y="386" width="9" height="4" fill="#ff0000"/>
<rect x="757" y="350" width="1" height="51" fill="#000"/>
<rect x="752" y="376" width="11" height="12" fill="#000"/>
<rect x="753" y="377" width="9" height="10" fill="#ff0000"/>
<rect x="773" y="352" width="1" height="49" fill="#000"/>
<rect x="768" y="364" width="11" height="14" fill="#000"/>
<rect x="769" y="365" width="9" height="12" fill="#ff0000"/>
<rect x="789" y="352" width="1" height="74" fill="#000"/>
<rect x="784" y="365" width="11" height="59" fill="#000"/>
<rect x="785" y="366" width="9" height="57" fill="#00ff00"/>
<rect x="805" y="422" width="1" height="43" fill="#000"/>
<rect x="800" y="422" width="11" height="30" fill="#000"/>
<rect x="801" y="423" width="9" height="28" fill="#00ff00"/>
<rect x="821" y="415" width="1" height="35" fill="#000"/>
<rect x="816" y="434" width="11" height="6" fill="#000"/>
<rect x="817" y="435" width="9" height="4" fill="#00ff00"/>
<rect x="837" y="317" width="1" height="114" fill="#000"/>
<rect x="832" y="322" width="11" height="108" fill="#000"/>
<rect x="833" y="323" width="9" height="106" fill="#ff0000"/>
<rect x="853" y="320" width="1" height="41" fill="#000"/>
<rect x="848" y="320" width="11" height="37" fill="#000"/>
<rect x="849" y="321" width="9" height="35" fill="#00ff00"/>
<rect x="869" y="378" width="1" height="48" fill="#000"/>
<rect x="864" y="380" width="11" height="37" fill="#000"/>
<rect x="865" y="381" width="9" height="35" fill="#00ff00"/>
<rect x="885" y="409" width="1" height="121" fill="#000"/>
<rect x="880" y="417" width="11" height="94" fill="#000"/>
<rect x="881" y="418" width="9" height="92" fill="#00ff00"/>
<rect x="901" y="486" width="1" height="48" fill="#000"/>
<rect x="896" y="489" width="11" height="24" fill="#000"/>
<rect x="897" y="490" width="9" height="22" fill="#ff0000"/>
<rect x="917" y="465" width="1" height="34" fill="#000"/>
<rect x="912" y="478" width="11" height="7" fill="#000"/>
<rect x="913" y="479" width="9" height="5" fill="#00ff00"/>
<rect x="933" y="425" width="1" height="67" fill="#000"/>
<rect x="928" y="449" width="11" height="27" fill="#000"/>
<rect x="929" y="450" width="9" height="25" fill="#ff0000"/>
<rect x="949" y="444" width="1" height="59" fill="#000"/>
<rect x="944" y="451" width="11" height="41" fill="#000"/>
<rect x="945" y="452" width="9" height="39" fill="#00ff00"/>
<rect x="965" y="475" width="1" height="50" fill="#000"/>
<rect x="960" y="489" width="11" height="29" fill="#000"/>
<rect x="961" y="490" width="9" height="27" fill="#00ff00"/>
<rect x="981" y="454" width="1" height="78" fill="#000"/>
<rect x="976" y="512" width="11" height="5" fill="#000"/>
<rect x="977" y="513" width="9" height="3" fill="#ff0000"/>
<rect x="1013" y="499" width="1" height="24" fill="#000"/>
<rect x="1008" y="503" width="11" height="9" fill="#000"/>
<rect x="1009" y="504" width="9" height="7" fill="#ff0000"/>
<rect x="1029" y="491" width="1" height="112" fill="#000"/>
<rect x="1024" y="501" width="11" height="48" fill="#000"/>
<rect x="1025" y="502" width="9" height="46" fill="#00ff00"/>
<rect x="1045" y="503" width="1" height="48" fill="#000"/>
<rect x="1040" y="531" width="11" height="15" fill="#000"/>
<rect x="1041" y="532" width="9" height="13" fill="#ff0000"/>
<rect x="1061" y="483" width="1" height="56" fill="#000"/>
<rect x="1056" y="491" width="11" height="40" fill="#000"/>
<rect x="1057" y="492" width="9" height="38" fill="#ff0000"/>
<rect x="1077" y="432" width="1" height="60" fill="#000"/>
<rect x="1072" y="444" width="11" height="47" fill="#000"/>
<rect x="1073" y="445" width="9" height="45" fill="#ff0000"/>
<rect x="1093" y="442" width="1" height="34" fill="#000"/>
<rect x="1088" y="442" width="11" height="3" fill="#000"/>
<rect x="1089" y="443" width="9" height="1" fill="#00ff00"/>
<rect x="1109" y="435" width="1" height="29" fill="#000"/>
<rect x="1104" y="456" width="11" height="3" fill="#000"/>
<rect x="1105" y="457" width="9" height="1" fill="#00ff00"/>
<rect x="1125" y="343" width="1" height="143" fill="#000"/>
<rect x="1120" y="369" width="11" height="93" fill="#000"/>
<rect x="1121" y="370" width="9" height="91" fill="#ff0000"/>
<rect x="1141" y="350" width="1" height="53" fill="#000"/>
<rect x="1136" y="370" width="11" height="9" fill="#000"/>
<rect x="1137" y="371" width="9" height="7" fill="#00ff00"/>
<rect x="1157" y="360" width="1" height="70" fill="#000"/>
<rect x="1152" y="377" width="11" height="9" fill="#000"/>
<rect x="1153" y="378" width="9" height="7" fill="#00ff00"/>
<rect x="1173" y="322" width="1" height="68" fill="#000"/>
<rect x="1168" y="365" width="11" height="19" fill="#000"/>
<rect x="1169" y="366" width="9" height="17" fill="#ff0000"/>
<rect x="1189" y="352" width="1" height="30" fill="#000"/>
<rect x="1184" y="357" width="11" height="9" fill="#000"/>
<rect x="1185" y="358" width="9" height="7" fill="#ff0000"/>
<rect x="1205" y="423" width="1" height="37" fill="#000"/>
<rect x="1200" y="434" width="11" height="23" fill="#000"/>
<rect x="1201" y="435" width="9" height="21" fill="#00ff00"/>
<rect x="1221" y="401" width="1" height="54" fill="#000"/>
<rect x="1216" y="410" width="11" height="43" fill="#000"/>
<rect x="1217" y="411" width="9" height="41" fill="#ff0000"/>
<rect x="1237" y="391" width="1" height="27" fill="#000"/>
<rect x="1232" y="397" width="11" height="14" fill="#000"/>
<rect x="1233" y="398" width="9" height="12" fill="#ff0000"/>
<rect x="1253" y="379" width="1" height="29" fill="#000"/>
<rect x="1248" y="392" width="11" height="5" fill="#000"/>
<rect x="1249" y="393" width="9" height="3" fill="#ff0000"/>
<rect x="1269" y="332" width="1" height="62" fill="#000"/>
<rect x="1264" y="341" width="11" height="51" fill="#000"/>
<rect x="1265" y="342" width="9" height="49" fill="#ff0000"/>
<rect x="1285" y="294" width="1" height="60" fill="#000"/>
<rect x="1280" y="304" width="11" height="38" fill="#000"/>
<rect x="1281" y="305" width="9" height="36" fill="#ff0000"/>
<rect x="1301" y="292" width="1" height="22" fill="#000"/>
<rect x="1296" y="296" width="11" height="4" fill="#000"/>
<rect x="1297" y="297" width="9" height="2" fill="#ff0000"/>
<rect x="1317" y="272" width="1" height="99" fill="#000"/>
<rect x="1312" y="293" width="11" height="68" fill="#000"/>
<rect x="1313" y="294" width="9" height="66" fill="#00ff00"/>
<rect x="1333" y="301" width="1" height="63" fill="#000"/>
<rect x="1328" y="304" width="11" height="57" fill="#000"/>
<rect x="1329" y="305" width="9" height="55" fill="#ff0000"/>
<rect x="1349" y="177" width="1" height="137" fill="#000"/>
<rect x="1344" y="182" width="11" height="122" fill="#000"/>
<rect x="1345" y="183" width="9" height="120" fill="#ff0000"/>
<rect x="1365" y="175" width="1" height="165" fill="#000"/>
<rect x="1360" y="182" width="11" height="130" fill="#000"/>
<rect x="1361" y="183" width="9" height="128" fill="#00ff00"/>
<rect x="1381" y="264" width="1" height="72" fill="#000"/>
<rect x="1376" y="294" width="11" height="18" fill="#000"/>
<rect x="1377" y="295" width="9" height="16" fill="#ff0000"/>
<rect x="133" y="108" width="1" height="6" fill="#00ff00"/>
<rect x="128" y="113" width="11" height="1" fill="#00ff00"/>
<rect x="997" y="503" width="1" height="27" fill="#00ff00"/>
<rect x="992" y="513" width="11" height="1" fill="#00ff00"/>
<rect x="5" y="220" width="1636" height="2" fill="#ff0000"/>
<rect x="4" y="218" width="6" height="6" fill="#ff0000"/>
<rect x="6" y="220" width="2" height="2" fill="#fff"/>
<rect x="1635" y="218" width="6" height="6" fill="#ff0000"/>
<rect x="1637" y="220" width="2" height="2" fill="#fff"/>
<rect x="5" y="257" width="1636" height="2" fill="#ff0000"/>
<rect x="4" y="255" width="6" height="6" fill="#ff0000"/>
<rect x="6" y="257" width="2" height="2" fill="#fff"/>
<rect x="1635" y="255" width="6" height="6" fill="#ff0000"/>
<rect x="1637" y="257" width="2" height="2" fill="#fff"/>
<rect x="5" y="303" width="1636" height="2" fill="#ffa500"/>
<rect x="4" y="301" width="6" height="6" fill="#ffa500"/>
<rect x="6" y="303" width="2" height="2" fill="#fff"/>
<rect x="1635" y="301" width="6" height="6" fill="#ffa500"/>
<rect x="1637" y="303" width="2" height="2" fill="#fff"/>
<rect x="5" y="336" width="1636" height="2" fill="#0000ff"/>
<rect x="4" y="334" width="6" height="6" fill="#0000ff"/>
<rect x="6" y="336" width="2" height="2" fill="#fff"/>
<rect x="1635" y="334" width="6" height="6" fill="#0000ff"/>
<rect x="1637" y="336" width="2" height="2" fill="#fff"/>
<rect x="5" y="366" width="1636" height="2" fill="#0000ff"/>
<rect x="4" y="364" width="6" height="6" fill="#0000ff"/>
<rect x="6" y="366" width="2" height="2" fill="#fff"/>
<rect x="1635" y="364" width="6" height="6" fill="#0000ff"/>
<rect x="1637" y="366" width="2" height="2" fill="#fff"/>
<polygon points="1405,26 1416,26 1410.5,31.5" fill="#000" shape-rendering="auto"/>
</g>
<g shape-rendering="crispEdges">
<rect x="4" y="218" width="1" height="6" fill="#ff0000"/>
<rect x="4" y="255" width="1" height="6" fill="#ff0000"/>
<rect x="4" y="301" width="1" height="6" fill="#ffa500"/>
<rect x="4" y="334" width="1" height="6" fill="#0000ff"/>
<rect x="4" y="364" width="1" height="6" fill="#0000ff"/>
</g>
<g shape-rendering="auto"><line x1="1296.8" y1="435.2" x2="1384" y2="353" stroke="#e6141e" stroke-width="3.2"/>
<polygon points="1395.4,342.8 1376.4,348.4 1388.8,361.1" fill="#e6141e"/></g>
<g shape-rendering="crispEdges">
<rect x="1643" y="215" width="41" height="11" fill="#ff0000"/>
<rect x="1643" y="252" width="41" height="11" fill="#ff0000"/>
<rect x="1643" y="289" width="41" height="11" fill="#000"/>
<rect x="1643" y="298" width="41" height="11" fill="#ffa500"/>
<rect x="1643" y="331" width="41" height="11" fill="#0000ff"/>
<rect x="1643" y="361" width="41" height="11" fill="#0000ff"/>
</g>
<text x="1647.3" y="224" fill="#fff" stroke="#fff" stroke-width="0.22" textLength="32.8" lengthAdjust="spacingAndGlyphs">28136.9</text>
<text x="1647.3" y="261" fill="#fff" stroke="#fff" stroke-width="0.22" textLength="32.8" lengthAdjust="spacingAndGlyphs">28058.3</text>
<g clip-path="url(#cb)"><text x="1647.3" y="298" fill="#fff" stroke="#fff" stroke-width="0.22" textLength="32.8" lengthAdjust="spacingAndGlyphs">27980.9</text></g>
<text x="1647.3" y="307" fill="#fff" stroke="#fff" stroke-width="0.22" textLength="32.8" lengthAdjust="spacingAndGlyphs">27960.6</text>
<text x="1647.3" y="340" fill="#fff" stroke="#fff" stroke-width="0.22" textLength="32.8" lengthAdjust="spacingAndGlyphs">27890.5</text>
<text x="1647.3" y="370" fill="#fff" stroke="#fff" stroke-width="0.22" textLength="32.8" lengthAdjust="spacingAndGlyphs">27826.8</text>
<defs><clipPath id="cb"><rect x="1643" y="289" width="42" height="9"/></clipPath></defs>
<polygon points="8,32 15,32 11.5,36" fill="#000"/>
<text x="20" y="37" fill="#000" stroke="#000" stroke-width="0.22" textLength="196.5" lengthAdjust="spacingAndGlyphs" xml:space="preserve">JPN225-,H4&#160; 27946.3 28045.9 27890.6 27980.9</text>
<g shape-rendering="crispEdges">
<rect x="5" y="625" width="2" height="47" fill="#00ff00"/>
<rect x="20" y="625" width="3" height="47" fill="#00ff00"/>
<rect x="36" y="625" width="3" height="47" fill="#00ff00"/>
<rect x="52" y="625" width="3" height="47" fill="#00ff00"/>
<rect x="68" y="625" width="3" height="47" fill="#00ff00"/>
<rect x="84" y="625" width="3" height="47" fill="#00ff00"/>
<rect x="100" y="628" width="3" height="44" fill="#00ff00"/>
<rect x="116" y="629" width="3" height="43" fill="#00ff00"/>
<rect x="132" y="631" width="3" height="41" fill="#00ff00"/>
<rect x="148" y="634" width="3" height="38" fill="#00ff00"/>
<rect x="164" y="638" width="3" height="34" fill="#00ff00"/>
<rect x="180" y="640" width="3" height="32" fill="#00ff00"/>
<rect x="196" y="642" width="3" height="30" fill="#00ff00"/>
<rect x="212" y="644" width="3" height="28" fill="#00ff00"/>
<rect x="228" y="646" width="3" height="26" fill="#00ff00"/>
<rect x="244" y="652" width="3" height="20" fill="#00ff00"/>
<rect x="260" y="660" width="3" height="12" fill="#00ff00"/>
<rect x="276" y="667" width="3" height="5" fill="#00ff00"/>
<rect x="292" y="668" width="3" height="4" fill="#00ff00"/>
<rect x="308" y="671" width="3" height="1" fill="#00ff00"/>
<rect x="324" y="672" width="3" height="6" fill="#00ff00"/>
<rect x="340" y="672" width="3" height="13" fill="#00ff00"/>
<rect x="356" y="672" width="3" height="19" fill="#00ff00"/>
<rect x="372" y="672" width="3" height="22" fill="#00ff00"/>
<rect x="388" y="672" width="3" height="25" fill="#00ff00"/>
<rect x="404" y="672" width="3" height="28" fill="#00ff00"/>
<rect x="420" y="672" width="3" height="31" fill="#00ff00"/>
<rect x="436" y="672" width="3" height="34" fill="#00ff00"/>
<rect x="452" y="672" width="3" height="37" fill="#00ff00"/>
<rect x="468" y="672" width="3" height="33" fill="#00ff00"/>
<rect x="484" y="672" width="3" height="29" fill="#00ff00"/>
<rect x="500" y="672" width="3" height="25" fill="#00ff00"/>
<rect x="516" y="672" width="3" height="13" fill="#00ff00"/>
<rect x="532" y="671" width="3" height="1" fill="#00ff00"/>
<rect x="548" y="666" width="3" height="6" fill="#00ff00"/>
<rect x="564" y="667" width="3" height="5" fill="#00ff00"/>
<rect x="580" y="666" width="3" height="6" fill="#00ff00"/>
<rect x="596" y="672" width="3" height="2" fill="#00ff00"/>
<rect x="612" y="672" width="3" height="5" fill="#00ff00"/>
<rect x="628" y="672" width="3" height="9" fill="#00ff00"/>
<rect x="644" y="672" width="3" height="21" fill="#00ff00"/>
<rect x="660" y="672" width="3" height="32" fill="#00ff00"/>
<rect x="676" y="672" width="3" height="40" fill="#00ff00"/>
<rect x="692" y="672" width="3" height="45" fill="#00ff00"/>
<rect x="708" y="672" width="3" height="47" fill="#00ff00"/>
<rect x="724" y="672" width="3" height="48" fill="#00ff00"/>
<rect x="740" y="672" width="3" height="47" fill="#00ff00"/>
<rect x="756" y="672" width="3" height="46" fill="#00ff00"/>
<rect x="772" y="672" width="3" height="43" fill="#00ff00"/>
<rect x="788" y="672" width="3" height="45" fill="#00ff00"/>
<rect x="804" y="672" width="3" height="48" fill="#00ff00"/>
<rect x="820" y="672" width="3" height="49" fill="#00ff00"/>
<rect x="836" y="672" width="3" height="40" fill="#00ff00"/>
<rect x="852" y="672" width="3" height="36" fill="#00ff00"/>
<rect x="868" y="672" width="3" height="36" fill="#00ff00"/>
<rect x="884" y="672" width="3" height="42" fill="#00ff00"/>
<rect x="900" y="672" width="3" height="46" fill="#00ff00"/>
<rect x="916" y="672" width="3" height="48" fill="#00ff00"/>
<rect x="932" y="672" width="3" height="46" fill="#00ff00"/>
<rect x="948" y="672" width="3" height="48" fill="#00ff00"/>
<rect x="964" y="672" width="3" height="50" fill="#00ff00"/>
<rect x="980" y="672" width="3" height="51" fill="#00ff00"/>
<rect x="996" y="672" width="3" height="51" fill="#00ff00"/>
<rect x="1012" y="672" width="3" height="50" fill="#00ff00"/>
<rect x="1028" y="672" width="3" height="52" fill="#00ff00"/>
<rect x="1044" y="672" width="3" height="51" fill="#00ff00"/>
<rect x="1060" y="672" width="3" height="47" fill="#00ff00"/>
<rect x="1076" y="672" width="3" height="41" fill="#00ff00"/>
<rect x="1092" y="672" width="3" height="35" fill="#00ff00"/>
<rect x="1108" y="672" width="3" height="31" fill="#00ff00"/>
<rect x="1124" y="672" width="3" height="21" fill="#00ff00"/>
<rect x="1140" y="672" width="3" height="14" fill="#00ff00"/>
<rect x="1156" y="672" width="3" height="8" fill="#00ff00"/>
<rect x="1172" y="672" width="3" height="3" fill="#00ff00"/>
<rect x="1188" y="669" width="3" height="3" fill="#00ff00"/>
<rect x="1204" y="672" width="3" height="1" fill="#00ff00"/>
<rect x="1220" y="671" width="3" height="1" fill="#00ff00"/>
<rect x="1236" y="669" width="3" height="3" fill="#00ff00"/>
<rect x="1252" y="668" width="3" height="4" fill="#00ff00"/>
<rect x="1268" y="663" width="3" height="9" fill="#00ff00"/>
<rect x="1284" y="657" width="3" height="15" fill="#00ff00"/>
<rect x="1300" y="651" width="3" height="21" fill="#00ff00"/>
<rect x="1316" y="652" width="3" height="20" fill="#00ff00"/>
<rect x="1332" y="649" width="3" height="23" fill="#00ff00"/>
<rect x="1348" y="637" width="3" height="35" fill="#00ff00"/>
<rect x="1364" y="638" width="3" height="34" fill="#00ff00"/>
<rect x="1380" y="638" width="3" height="34" fill="#00ff00"/>
<polyline points="4.6,642.3 21.0,638.8 37.7,634.6 54.5,631.0 71.2,628.3 88.0,626.8 104.7,626.4 129.9,626.6 146.6,627.9 167.6,630.0 188.5,632.5 209.5,635.0 230.4,637.7 251.4,641.3 272.3,645.7 293.3,650.7 314.2,656.1 340.9,662.8 357.7,668.1 372.4,673.7 389.1,678.6 405.9,683.8 420.5,687.6 437.3,691.7 454.0,695.7 468.7,698.5 485.5,701.0 516.9,701.0 533.7,696.8 550.4,692.8 567.2,689.0 583.9,684.8 598.6,681.3 613.2,678.3 630.0,676.5 632.0,675.6 652.6,675.6 661.0,676.9 677.7,682.7 692.4,686.9 709.1,693.6 725.9,699.9 740.5,704.1 757.3,708.3 774.0,713.1 788.7,714.6 805.5,716.7 851.6,716.7 862.0,714.8 870.4,713.7 899.7,713.7 901.8,714.8 964.7,714.8 981.0,715.6 991.4,717.7 1012.4,719.4 1029.1,720.9 1075.2,720.9 1094.0,718.4 1108.7,716.7 1125.5,713.7 1142.2,709.3 1156.9,704.7 1173.7,699.9 1190.4,692.8 1207.2,688.0 1223.9,682.7 1240.0,678.7 1253.3,675.4 1269.1,672.6 1284.7,669.5 1301.1,666.5 1333.2,661.7 1349.2,657.3 1365.2,654.4 1381.5,651.0" fill="none" stroke="#ff0000" stroke-width="2"/>
</g>
<text x="9" y="631" fill="#000" stroke="#000" stroke-width="0.22" textLength="117.5" lengthAdjust="spacingAndGlyphs">MACD(12,26,9) 79.89 51.77</text>
<g shape-rendering="crispEdges">
<line x1="6" y1="752.5" x2="1641" y2="752.5" stroke="#000" stroke-width="1" stroke-dasharray="3 3"/>
<line x1="6" y1="783.5" x2="1641" y2="783.5" stroke="#000" stroke-width="1" stroke-dasharray="3 3"/>
<line x1="6" y1="820.5" x2="1641" y2="820.5" stroke="#000" stroke-width="1" stroke-dasharray="3 3"/>
<polyline points="5,758.8 21,763.6 37,763.6 53,761.2 69,760.8 85,762.6 101,769.7 117,767.7 133,768.1 149,768.9 165,778.7 181,773.9 197,774.3 213,775.7 229,775.9 245,788.6 261,794.4 277,797.9 293,784.6 309,789.4 325,794.4 341,798.9 357,798.9 373,796.9 389,796.9 405,799.9 421,799.9 437,802.7 453,802.7 469,787.0 485,786.6 501,783.8 517,768.9 533,765.9 549,777.7 565,782.0 581,782.0 597,790.8 613,789.0 629,789.0 645,799.9 661,800.9 677,800.9 693,800.5 709,795.9 725,795.9 741,795.5 757,793.0 773,791.4 789,797.9 805,799.9 821,798.9 837,782.8 853,786.0 869,792.4 885,798.9 901,795.9 917,795.5 933,791.4 949,795.5 965,796.5 981,796.5 997,795.5 1013,795.9 1029,798.9 1045,796.9 1061,790.4 1077,784.4 1093,784.0 1109,785.8 1125,776.9 1141,777.7 1157,777.7 1173,775.9 1189,775.9 1205,788.0 1221,782.4 1237,781.0 1253,780.4 1269,775.3 1285,771.3 1301,770.9 1317,778.9 1333,773.9 1349,765.9 1365,778.9 1381,777.9" fill="none" stroke="#1e90ff" stroke-width="2"/>
</g>
<text x="9" y="743" fill="#000" stroke="#000" stroke-width="0.22" textLength="67.5" lengthAdjust="spacingAndGlyphs">RSI(14) 55.8537</text>
</svg>
</body></html>
